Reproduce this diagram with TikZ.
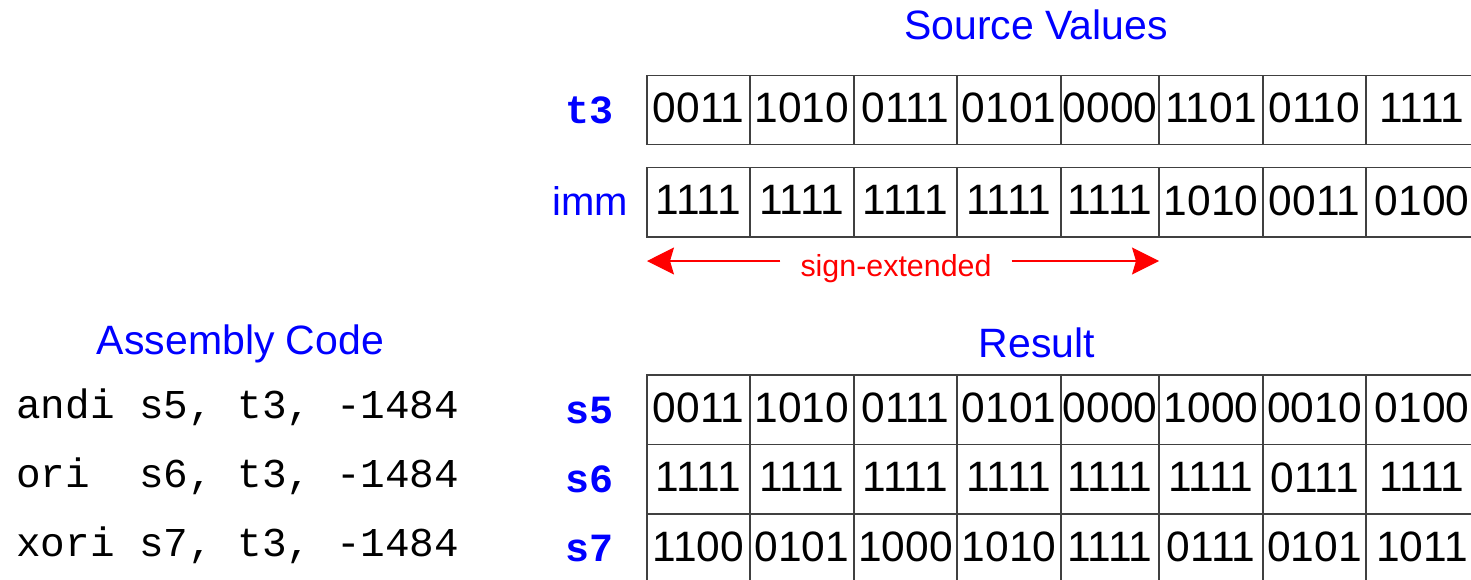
\documentclass[tikz,border=0pt]{standalone}
\usepackage{fontspec}
\setmainfont{Liberation Sans}
\setmonofont{Liberation Mono}
\usetikzlibrary{arrows.meta}
\definecolor{titleblue}{RGB}{0,0,255}
\definecolor{gridgray}{RGB}{64,64,64}
\definecolor{extred}{RGB}{255,0,0}

% column boundaries of the 8 nibble cells
\def\colbounds{{647,750,854,957,1061,1159,1263,1366,1478}}

% one row of nibble cells: name, top, bottom, values
\newcommand\nibblerow[4]{%
  \foreach \v [count=\i] in {#4} {%
    \pgfmathsetmacro\xl{\colbounds[\i-1]}%
    \pgfmathsetmacro\xr{\colbounds[\i]}%
    \pgfmathsetmacro\cw{\xr-\xl}%
    \pgfmathsetmacro\ch{#3-#2}%
    \node[bitcell, minimum width=\cw pt, minimum height=\ch pt]
      (#1-\i) at ({(\xl+\xr)/2},{(#2+#3)/2}) {\v};
  }%
}

\begin{document}
\begin{tikzpicture}[x=1pt,y=-1pt,
  heading/.style={font=\fontsize{41}{41}\selectfont, text=titleblue, anchor=base, inner sep=0},
  reglabel/.style={font=\ttfamily\bfseries\fontsize{40}{40}\selectfont, text=titleblue, anchor=base, inner sep=0},
  immlabel/.style={font=\fontsize{40}{40}\selectfont, text=titleblue, anchor=base, inner sep=0},
  codeline/.style={font=\ttfamily\frenchspacing\fontsize{41}{41}\selectfont, anchor=base west, inner sep=0},
  bitcell/.style={draw=gridgray, line width=1.6pt, inner sep=0, text depth=4pt,
    font=\fontsize{42.5}{42.5}\selectfont},
  extlabel/.style={font=\fontsize{30.4}{30.4}\selectfont, text=extred, anchor=base, inner ysep=0, inner xsep=20pt},
  extarrow/.style={draw=extred, line width=1.2pt, -{Stealth[length=27pt,width=27pt,inset=4pt]}},
]
\useasboundingbox (0,0) rectangle (1471,579);
\clip (0,0) rectangle (1471,579);

% headings
\node[heading] (srchead) at (1036,39) {Source Values};
\node[heading] (reshead) at (1037,357) {Result};
\node[heading] (asmhead) at (240.5,354) {Assembly Code};

% source registers
\node[reglabel] (lt3) at (589,123) {t3};
\node[immlabel] (limm) at (590.5,215) {imm};
\nibblerow{t3}{75.5}{144.5}{0011,1010,0111,0101,0000,1101,0110,1111}
\nibblerow{imm}{167.5}{237}{1111,1111,1111,1111,1111,1010,0011,0100}

% sign-extension marker
\node[extlabel] (ext) at (896,276) {sign-extended};
\coordinate (extL) at (647,261);
\coordinate (extR) at (1159,261);
\draw[extarrow] (ext.west |- extL) -- (extL);
\draw[extarrow] (ext.east |- extR) -- (extR);

% results
\node[reglabel] (ls5) at (589,423) {s5};
\node[reglabel] (ls6) at (589,492) {s6};
\node[reglabel] (ls7) at (589,561) {s7};
\nibblerow{s5}{375}{444.5}{0011,1010,0111,0101,0000,1000,0010,0100}
\nibblerow{s6}{444.5}{514}{1111,1111,1111,1111,1111,1111,0111,1111}
\nibblerow{s7}{514}{583.5}{1100,0101,1000,1010,1111,0111,0101,1011}

% assembly code
\node[codeline] (c1) at (16,418) {andi s5, t3, -1484};
\node[codeline] (c2) at (16,487) {ori\ \ s6, t3, -1484};
\node[codeline] (c3) at (16,556) {xori s7, t3, -1484};
\end{tikzpicture}
\end{document}
